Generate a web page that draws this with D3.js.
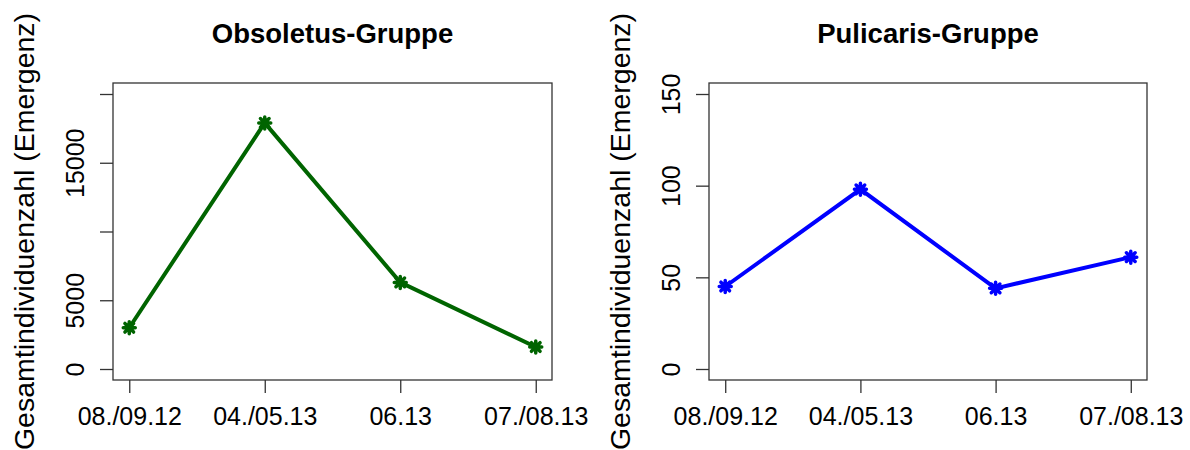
<!DOCTYPE html>
<html>
<head>
<meta charset="utf-8">
<script src="https://cdn.jsdelivr.net/npm/d3@7"></script>
<style>
  body { margin: 0; background: #fff; }
  text { font-family: Arial, "Liberation Sans", sans-serif; fill: #000; }
</style>
</head>
<body>
<div id="chart"></div>
<script>
const periods = ["08./09.12", "04./05.13", "06.13", "07./08.13"];
const obsoletus = [3000, 17900, 6300, 1600];
const pulicaris = [45, 98, 44, 61];
const obsoletusTicks = [0, 5000, 10000, 15000, 20000];
const obsoletusLabels = ["0", "5000", "", "15000", ""];
const pulicarisTicks = [0, 50, 100, 150];
const pulicarisLabels = ["0", "50", "100", "150"];

const width = 1190,
  height = 450;

const svg = d3.select("#chart")
  .append("svg")
  .attr("width", width)
  .attr("height", height);

function panel(opts) {
  const left = opts.left, right = opts.right, top = 83, bottom = 380;
  const g = svg.append("g");

  // R style: 4% padding on both axes
  const x = d3.scaleLinear()
    .domain([0.88, 4.12])
    .range([left, right]);
  const ymax = opts.ymax;
  const y = d3.scaleLinear()
    .domain([-0.04 * ymax, 1.04 * ymax])
    .range([bottom, top]);

  // box
  g.append("rect")
    .attr("x", left).attr("y", top)
    .attr("width", right - left).attr("height", bottom - top)
    .attr("fill", "none").attr("stroke", "#333").attr("stroke-width", 1.3);

  // x axis
  const xAxis = d3.axisBottom(x)
    .tickValues([1, 2, 3, 4])
    .tickFormat((d, i) => periods[i])
    .tickSize(13)
    .tickPadding(14);
  const gx = g.append("g")
    .attr("transform", `translate(0,${bottom})`)
    .call(xAxis);
  gx.select(".domain").remove();
  gx.selectAll("line").attr("stroke", "#333").attr("stroke-width", 1.3);
  gx.selectAll("text")
    .attr("font-size", 25)
    .attr("fill", "#000")
    .style("font-family", "Arial, 'Liberation Sans', sans-serif");

  // y axis
  const yAxis = d3.axisLeft(y)
    .tickValues(opts.ticks)
    .tickFormat((d, i) => opts.labels[i])
    .tickSize(13);
  const gy = g.append("g")
    .attr("transform", `translate(${left},0)`)
    .call(yAxis);
  gy.select(".domain").remove();
  gy.selectAll("line").attr("stroke", "#333").attr("stroke-width", 1.3);
  gy.selectAll("text")
    .attr("font-size", 25)
    .attr("fill", "#000")
    .attr("x", null).attr("dy", null)
    .attr("text-anchor", "middle")
    .attr("transform", "translate(-29,0) rotate(-90)")
    .style("font-family", "Arial, 'Liberation Sans', sans-serif");

  // y label
  g.append("text")
    .attr("transform", `translate(${left - 79},${(top + bottom) / 2}) rotate(-90)`)
    .attr("text-anchor", "middle")
    .attr("font-size", 28.5)
    .text("Gesamtindividuenzahl (Emergenz)");

  // title
  g.append("text")
    .attr("x", (left + right) / 2)
    .attr("y", 43)
    .attr("text-anchor", "middle")
    .attr("font-size", 27.5)
    .attr("font-weight", "bold")
    .text(opts.title);

  const line = d3.line()
    .x((d, i) => x(i + 1))
    .y(d => y(d));

  g.append("path")
    .datum(opts.values)
    .attr("fill", "none")
    .attr("stroke", opts.color)
    .attr("stroke-width", 4)
    .attr("d", line);

  // pch 8 style markers (plus + times)
  const r = 6, q = r * 0.72;
  g.append("g")
    .selectAll("path")
    .data(opts.values)
    .join("path")
    .attr("transform", (d, i) => `translate(${x(i + 1)},${y(d)})`)
    .attr("d", `M${-r},0H${r}M0,${-r}V${r}M${-q},${-q}L${q},${q}M${-q},${q}L${q},${-q}`)
    .attr("stroke", opts.color)
    .attr("stroke-width", 3.5)
    .attr("stroke-linecap", "round");
}

panel({
  left: 113, right: 552, ymax: 20000,
  ticks: obsoletusTicks, labels: obsoletusLabels,
  values: obsoletus, color: "#006400", title: "Obsoletus-Gruppe"
});

panel({
  left: 709, right: 1147, ymax: 150,
  ticks: pulicarisTicks, labels: pulicarisLabels,
  values: pulicaris, color: "#0000ff", title: "Pulicaris-Gruppe"
});
</script>
</body>
</html>
